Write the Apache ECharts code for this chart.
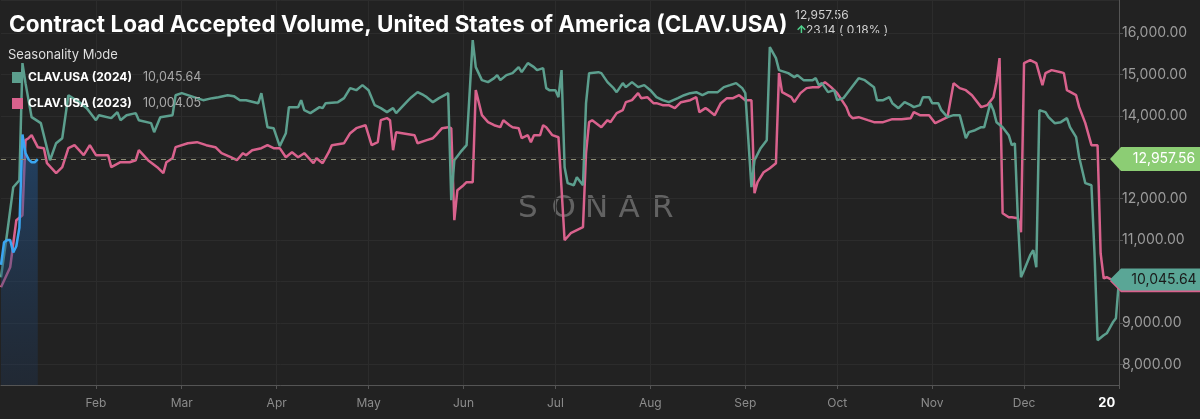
<!DOCTYPE html>
<html>
<head>
<meta charset="utf-8">
<script src="https://cdn.jsdelivr.net/npm/echarts@6/dist/echarts.min.js"></script>
<style>
html,body{margin:0;padding:0;background:#222222;}
#chart{width:1200px;height:419px;}
</style>
</head>
<body>
<div id="chart"></div>
<script>
// ---- data ----
const days2024 = [0,2,4,6,7,8,10,13,16,18,20,22,26,28,31,32,36,38,39,41,44,45,49,50,52,56,57,59,63,66,69,71,74,76,78,80,84,85,87,89,91,93,94,97,98,99,101,104,105,106,110,112,114,116,118,120,122,124,126,128,129,133,134,136,138,139,141,143,146,147,148,150,152,154,155,157,159,161,162,163,165,167,169,170,172,174,175,177,178,179,181,182,183,184,185,187,188,190,191,192,195,196,198,200,201,203,204,206,208,210,212,214,216,218,221,223,225,227,229,231,234,236,238,240,242,243,245,246,248,250,251,253,254,257,259,260,262,265,266,267,268,270,272,273,275,277,280,282,285,286,288,290,291,293,295,297,298,300,301,303,304,306,307,309,311,313,315,316,318,320,321,323,324,325,327,329,330,331,332,333,334,336,337,338,339,341,342,344,346,348,349,351,352,354,356,357,358,360,361,363,364,365];
const vals2024 = [10100,11166,12278,12447,15275,14792,13970,13825,12930,13341,13462,14500,14308,14187,13897,14018,13946,14091,13897,14018,14067,13897,13825,13607,13970,14018,14500,14550,14453,14380,14429,14453,14500,14477,14380,14380,14308,14550,13728,13704,13270,13583,14212,14212,14380,14139,14067,14212,14187,14308,14332,14429,14671,14622,14743,14622,14260,14187,14091,14187,14067,14380,14453,14574,14500,14453,14332,14429,14550,11964,12930,13124,13293,15831,15178,14864,14816,14912,14985,14864,14985,15033,15178,15057,15275,15178,15106,15154,14671,14622,14622,14453,15106,12761,12375,12326,12520,12326,14308,15033,15057,15033,14816,14671,14574,14792,14695,14816,14695,14743,14622,14453,14380,14332,14429,14500,14550,14574,14500,14574,14574,14695,14743,14792,14671,14550,12278,12930,13221,13414,15662,15396,15106,15033,14937,14985,14864,14864,14912,14743,14792,14574,14622,14380,14429,14622,14912,14864,14695,14380,14380,14453,14308,14187,14332,14260,14212,14260,14453,14453,14308,14308,14139,13970,14018,14018,13462,13607,13655,13728,13728,14308,14139,13849,13728,13535,13293,13341,11480,10103,10272,10635,10755,10345,14139,14091,13970,13825,13849,13946,13728,13486,13003,12375,12326,10683,8580,8701,8749,9015,9112,10045.64];

const days2023 = [0,3,5,7,8,9,10,12,14,15,18,20,22,24,27,29,31,35,36,39,42,44,45,48,51,53,54,56,57,61,64,67,70,72,75,77,79,80,82,85,87,89,91,93,95,97,99,102,103,105,107,108,112,114,116,117,119,121,123,124,126,127,128,129,131,135,136,139,141,142,144,146,147,148,149,151,152,154,155,157,159,161,163,164,166,167,169,170,172,173,174,176,177,178,180,182,184,186,188,190,191,192,193,196,198,199,201,203,204,206,208,209,211,213,214,216,218,220,222,225,227,228,230,231,233,235,237,239,241,243,245,246,247,249,251,253,254,255,258,259,261,263,265,267,269,271,273,276,277,278,280,283,285,288,291,294,297,298,300,303,305,307,309,311,313,315,317,320,322,324,325,326,327,329,330,332,333,334,336,338,340,341,343,346,347,348,351,352,354,356,358,359,360,361,363,365];
const vals2023 = [9861,10345,11480,11601,13414,13462,13535,13245,13221,12858,12616,12761,13221,13293,13051,13293,13051,13051,12761,12882,12882,12930,13172,12930,12761,12616,12882,12979,13245,13341,13366,13293,13245,13100,13003,12930,13100,13051,13172,13221,13293,13221,13221,13003,13124,13003,13100,12858,12979,12858,13124,13293,13341,13583,13704,13728,13776,13293,13366,13897,13946,13897,13172,13607,13583,13535,13341,13414,13462,13535,13704,13728,13704,11480,12205,12326,12399,12399,14622,14018,13849,13776,13728,13897,13776,13728,13704,13462,13535,13366,13535,13535,13776,13728,13535,13486,10997,11166,11239,11311,13100,13849,13897,13728,13897,13849,14067,14139,14332,14380,14550,14429,14453,14308,14308,14260,14260,14187,14332,14380,14453,14091,14187,14139,14018,14308,14429,14429,14500,14380,14380,12133,12399,12641,12737,12858,15033,14574,14453,14332,14550,14671,14695,14695,14816,14695,14550,14212,14018,13946,13970,13897,13849,13849,13921,13921,13946,14091,14018,14018,13825,13897,13970,14792,14671,14622,14500,14212,14260,14453,14816,15396,11650,11553,11553,11529,11190,15275,15347,15275,14743,15033,15106,15057,15033,14622,14500,14212,13825,13293,13293,10683,10079,10103,10030,10004.05];

const days2025 = [0,1,2,3,4,5,6,7,8,9,10,11,12];
const vals2025 = [10400,10950,11000,11000,10700,10850,11300,13550,13100,12950,12880,12880,12957.56];

const monthDays = [31,59,90,120,151,181,212,243,273,304,334];
const tickDays = [31,59,90,120,151,181,212,243,273,304,334,361];
const tickLabels = ['Feb','Mar','Apr','May','Jun','Jul','Aug','Sep','Oct','Nov','Dec','20'];
const seriesNames = ['CLAV.USA (2024)','CLAV.USA (2023)','CLAV.USA (2025)'];
const legendValues = ['10,045.64','10,004.05'];
const lastValue = 12957.56;
const change = '23.14 ( 0.18% )';
const title = 'Contract Load Accepted Volume, United States of America (CLAV.USA)';

// categories: one per day
const mNames = ['Jan','Feb','Mar','Apr','May','Jun','Jul','Aug','Sep','Oct','Nov','Dec'];
const categories = [];
for (let i = 0; i <= 365; i++) {
  const d = new Date(2023, 0, 1 + i);
  categories.push(mNames[d.getMonth()] + ' ' + d.getDate() + (i === 365 ? ' ' : ''));
}
const pairs = (ds, vs) => ds.map((d, i) => [d, vs[i]]);
const fmt = v => v.toLocaleString('en-US', {minimumFractionDigits: 2, maximumFractionDigits: 2});

const C24 = '#5c9f8e', C23 = '#d9628d', C25 = '#3aa6f2';
const tagPath = 'path://M0,11 L11,0 L100,0 L100,22 L11,22 Z';

const chart = echarts.init(document.getElementById('chart'), null, {renderer: 'canvas'});
const FONT = 'Inter, Roboto, "Noto Sans", sans-serif';

chart.setOption({
  backgroundColor: '#222222',
  animation: false,
  textStyle: {fontFamily: FONT},
  title: {
    text: title, left: 4, top: 9,
    textStyle: {color: '#ffffff', fontSize: 22.5, fontWeight: 'bold', fontFamily: FONT}
  },
  legend: {
    data: [seriesNames[0], seriesNames[1]],
    orient: 'vertical', left: 7, top: 66, itemGap: 13,
    icon: 'rect', itemWidth: 11, itemHeight: 11,
    selectedMode: false,
    formatter: name => {
      const i = seriesNames.indexOf(name);
      return '{n|' + name + '}{v|' + legendValues[i] + '}';
    },
    textStyle: {
      rich: {
        n: {color: '#ffffff', fontWeight: 'bold', fontSize: 12, width: 115, fontFamily: FONT},
        v: {color: '#a8a8a8', fontSize: 12.5, fontFamily: FONT}
      }
    }
  },
  grid: {left: 1, right: 81, top: 0, bottom: 34},
  xAxis: {
    type: 'category', data: categories, boundaryGap: false,
    axisLine: {show: true, lineStyle: {color: '#555555', width: 1}},
    axisTick: {show: true, length: 4, lineStyle: {color: '#555555'},
      interval: i => monthDays.includes(i) || i === 365},
    axisLabel: {
      interval: i => tickDays.includes(i),
      formatter: (v, i) => {
        const k = tickDays.indexOf(i);
        if (k < 0) return '';
        return k === tickLabels.length - 1 ? '{b|' + tickLabels[k] + '}' : tickLabels[k];
      },
      color: '#8c8c8c', fontSize: 12, margin: 12,
      rich: {b: {color: '#ffffff', fontWeight: 'bold', fontSize: 13}}
    },
    splitLine: {show: true, interval: i => monthDays.includes(i), lineStyle: {color: '#2c2c2c', width: 1}}
  },
  yAxis: {
    type: 'value', position: 'right', min: 7500, max: 16800, splitNumber: 9,
    axisLine: {show: true, lineStyle: {color: '#555555'}},
    axisTick: {show: true, length: 4, lineStyle: {color: '#555555'}},
    axisLabel: {color: '#9c9c9c', fontSize: 14, margin: 3, showMinLabel: false, showMaxLabel: false,
      formatter: v => fmt(v)},
    splitLine: {show: true, lineStyle: {color: '#2c2c2c', width: 1}}
  },
  graphic: [
    {type: 'text', left: 795, top: 9, style: {text: fmt(lastValue), fill: '#cfcfcf', fontSize: 12, fontFamily: FONT}},
    {type: 'text', left: 796, top: 24, style: {text: '\u2191', fill: '#4fd18b', fontSize: 12, fontWeight: 'bold', fontFamily: FONT}},
    {type: 'text', left: 806, top: 24, style: {text: change, fill: '#cfcfcf', fontSize: 12, fontFamily: FONT}},
    {type: 'text', left: 8, top: 49, style: {text: 'Seasonality Mode', fill: '#dedede', fontSize: 13, fontFamily: FONT}},
    {type: 'group', left: 518, top: 193, silent: true, children: ['S','O','N','A','R'].map((ch, i) => ({
      type: 'text', x: i * 33.5, y: 0,
      style: {text: ch, fill: 'rgba(120,120,120,0.75)', fontSize: 31, fontWeight: 'normal', fontFamily: '"DejaVu Sans", sans-serif'}
    }))}
  ],
  series: [
    {
      name: seriesNames[1], type: 'line', data: pairs(days2023, vals2023),
      color: C23, showSymbol: false, symbol: 'none', z: 2,
      lineStyle: {width: 2.5, color: C23},
      markPoint: {
        symbol: tagPath, symbolSize: [100, 22], symbolOffset: [41, 0], symbolKeepAspect: false,
        itemStyle: {color: C23}, silent: true,
        label: {show: false},
        data: [{coord: [365, vals2023[vals2023.length - 1]]}]
      }
    },
    {
      name: seriesNames[0], type: 'line', data: pairs(days2024, vals2024),
      color: C24, showSymbol: false, symbol: 'none', z: 3,
      lineStyle: {width: 2.5, color: C24},
      markPoint: {
        symbol: tagPath, symbolSize: [100, 22], symbolOffset: [41, 0], symbolKeepAspect: false,
        itemStyle: {color: '#5aa696'}, silent: true,
        label: {show: true, formatter: () => legendValues[0], color: '#1a1a1a', fontSize: 14, offset: [4, 0]},
        data: [{coord: [365, vals2024[vals2024.length - 1]]}]
      }
    },
    {
      name: seriesNames[2], type: 'line', data: pairs(days2025, vals2025),
      color: C25, showSymbol: false, symbol: 'none', z: 4,
      lineStyle: {width: 2.5, color: C25},
      areaStyle: {color: new echarts.graphic.LinearGradient(0, 0, 0, 1, [
        {offset: 0, color: 'rgba(35,95,160,0.75)'},
        {offset: 1, color: 'rgba(30,55,90,0.45)'}
      ])},
      markLine: {
        silent: true, symbol: 'none',
        lineStyle: {type: [5, 5], color: '#8d8d76', width: 1},
        label: {show: false},
        data: [{yAxis: lastValue}]
      },
      markPoint: {
        symbol: tagPath, symbolSize: [100, 24], symbolOffset: [41, 0], symbolKeepAspect: false,
        itemStyle: {color: '#8ccd74'}, silent: true,
        label: {show: true, formatter: () => fmt(lastValue), color: '#ffffff', fontSize: 14, offset: [4, 0]},
        data: [{coord: [365, lastValue]}]
      }
    }
  ]
});
</script>
</body>
</html>
